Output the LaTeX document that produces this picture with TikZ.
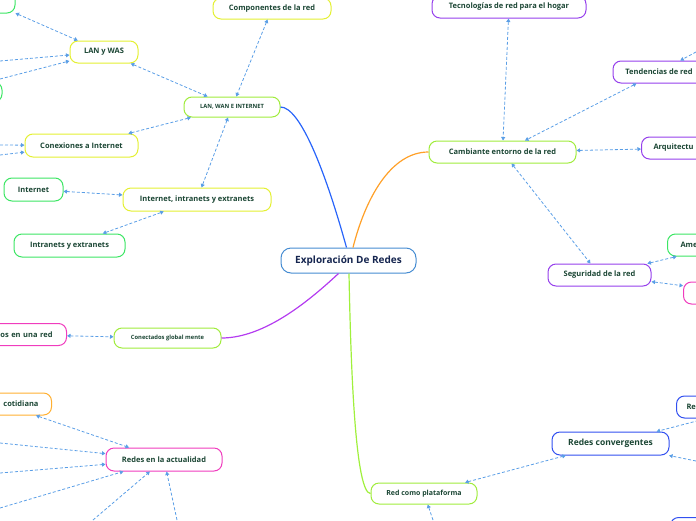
\documentclass[tikz,border=0pt]{standalone}
\usepackage{fontspec}
\setmainfont{Open Sans}
\usetikzlibrary{arrows.meta,calc}
\definecolor{TextGreen}{RGB}{27,70,52}
\definecolor{TitleNavy}{RGB}{22,38,80}
\definecolor{TitleBlue}{RGB}{70,140,210}
\definecolor{LinkBlue}{RGB}{90,158,230}
\definecolor{LimeLine}{RGB}{160,236,60}
\definecolor{YellowLine}{RGB}{228,240,50}
\definecolor{LeafGreen}{RGB}{60,230,100}
\definecolor{VioletLine}{RGB}{150,64,236}
\definecolor{PinkLine}{RGB}{240,60,190}
\definecolor{OrangeLine}{RGB}{255,176,50}
\definecolor{BlueLine}{RGB}{50,80,240}
\definecolor{BranchBlue}{RGB}{40,100,250}
\definecolor{BranchOrange}{RGB}{255,160,40}
\definecolor{BranchViolet}{RGB}{180,60,240}
\definecolor{BranchLime}{RGB}{160,240,60}

\tikzset{
  topic/.style={draw,rounded corners=8pt,line width=1pt,fill=white,
    text=TextGreen,font=\bfseries\fontsize{7.5}{9}\selectfont,
    minimum height=22pt,inner xsep=10pt,inner ysep=0pt},
  tiny/.style={font=\bfseries\fontsize{5.8}{7}\selectfont},
  link/.style={LinkBlue,line width=0.8pt,dash pattern=on 3pt off 2pt,
    {Triangle[width=4pt,length=3.5pt]}-{Triangle[width=4pt,length=3.5pt]}},
  inlink/.style={link,-{Triangle[width=4pt,length=3.5pt]}},
  branch/.style={line width=1.2pt},
  cutleft/.style={anchor=east,align=right,text width=#1},
  cutright/.style={anchor=west,align=left,text width=#1}
}

\begin{document}
\begin{tikzpicture}[x=1pt,y=-1pt]
  \useasboundingbox (0,0) rectangle (696,520);
  \clip (0,0) rectangle (696,520);

  % centre
  \node[topic,draw=TitleBlue,text=TitleNavy,rounded corners=10pt,
    font=\bfseries\fontsize{10}{12}\selectfont,
    minimum width=135pt,minimum height=25pt] (explore) at (348.5,260.5)
    {Exploración De Redes};

  % upper left
  \node[topic,tiny,draw=LimeLine,minimum width=96pt,minimum height=20pt]
    (lanwan) at (232,107) {LAN, WAN E INTERNET};
  \node[topic,draw=YellowLine,minimum width=118pt,minimum height=21pt]
    (parts) at (272,8.5) {Componentes de la red};
  \node[topic,draw=YellowLine,minimum width=68pt] (lanwas) at (104,52) {LAN y WAS};
  \node[topic,draw=LeafGreen,minimum width=50pt] (cornerleaf) at (-10,2) {};
  \node[topic,draw=LeafGreen,minimum width=60pt,minimum height=20pt]
    (sideleaf) at (-28,92) {};
  \node[topic,draw=YellowLine,minimum width=113pt,minimum height=23pt]
    (conex) at (81.5,145.5) {Conexiones a Internet};
  \node[topic,draw=LeafGreen,minimum width=59pt,minimum height=23pt]
    (inet) at (33.5,189.5) {Internet};
  \node[topic,draw=YellowLine,minimum width=148pt,minimum height=23pt]
    (intra) at (197,199.5) {Internet, intranets y extranets};
  \node[topic,draw=LeafGreen,minimum width=111pt,minimum height=23pt]
    (intraext) at (69.5,245.5) {Intranets y extranets};

  % right
  \node[topic,draw=LimeLine,minimum width=147pt] (change) at (502.5,152)
    {Cambiante entorno de la red};
  \node[topic,draw=VioletLine,minimum width=154pt] (home) at (509,7)
    {Tecnologías de red para el hogar};
  \node[topic,draw=VioletLine,minimum width=92pt] (trends) at (659,72)
    {Tendencias de red};
  \node[topic,draw=VioletLine,cutright=80pt,inner xsep=12pt] (arch) at (641,148)
    {Arquitectu};
  \node[topic,draw=VioletLine,minimum width=103pt] (secure) at (599.5,275)
    {Seguridad de la red};
  \node[topic,draw=LeafGreen,cutright=88pt,inner xsep=13pt] (threat) at (667,245)
    {Ame};
  \node[topic,draw=PinkLine,minimum width=112pt,anchor=west] (pinkright) at (683,293) {};

  % lower left
  \node[topic,draw=PinkLine,cutleft=90pt,inner xsep=14pt] (devices) at (67,334.5)
    {os en una red};
  \node[topic,tiny,draw=LimeLine,minimum width=107pt,minimum height=20pt]
    (global) at (167.5,338) {Conectados global mente};
  \node[topic,draw=OrangeLine,cutleft=72pt,inner xsep=13pt] (daily) at (52,404)
    {cotidiana};
  \node[topic,draw=PinkLine,minimum width=116pt,minimum height=23pt]
    (today) at (164,459.5) {Redes en la actualidad};

  % lower right
  \node[topic,draw=LimeLine,font=\bfseries\fontsize{7}{8}\selectfont,
    minimum width=106pt,minimum height=21pt] (platform) at (424,493.5)
    {Red como plataforma};
  \node[topic,draw=BlueLine,font=\bfseries\fontsize{8.5}{10}\selectfont,
    minimum width=117pt,minimum height=23pt] (converge) at (610.5,443.5)
    {Redes convergentes};
  \node[topic,draw=BlueLine,cutright=128pt,inner xsep=10pt] (reright) at (676,407)
    {Re};
  \node[topic,draw=BlueLine,minimum width=100pt,anchor=north west]
    (blueright) at (670,517) {};

  % loose ends beyond the frame
  \coordinate (w1) at (0,61);
  \coordinate (w2) at (0,79);
  \coordinate (w3) at (0,145);
  \coordinate (w4) at (0,155);
  \coordinate (w5) at (0,443);
  \coordinate (w6) at (0,473);
  \coordinate (w7) at (0,508);
  \coordinate (s1) at (93,520);
  \coordinate (s2) at (177,520);
  \coordinate (s3) at (433,520);
  \coordinate (e1) at (696,52);
  \coordinate (e2) at (696,461);

  % branches
  \draw[branch,BranchBlue] (lanwan.east) .. controls (300,107) and (325,170)
    .. ([xshift=-2pt]explore.north);
  \draw[branch,BranchOrange] ([xshift=4.5pt]explore.north) .. controls (365,200)
    and (390,152) .. (change.west);
  \draw[branch,BranchViolet] ([xshift=-10pt]explore.south) .. controls (310,300)
    and (265,338) .. (global.east);
  \draw[branch,BranchLime] ([xshift=0.5pt]explore.south) .. controls (351,380)
    and (356,493) .. (platform.west);

  % dashed links
  \draw[link] (cornerleaf) -- (lanwas);
  \draw[inlink] (w1) -- (lanwas);
  \draw[inlink] (w2) -- (lanwas);
  \draw[link] (lanwas) -- (lanwan);
  \draw[link] (parts) -- (lanwan);
  \draw[link] (conex) -- (lanwan);
  \draw[inlink] (w3) -- (conex);
  \draw[inlink] (w4) -- (conex);
  \draw[link] (lanwan) -- (intra);
  \draw[link] (inet) -- (intra);
  \draw[link] (intraext) -- (intra);

  \draw[link] (home) -- (change);
  \draw[link] (trends) -- (change);
  \draw[inlink] (e1) -- (trends);
  \draw[link] (change) -- (arch);
  \draw[link] (change) -- (secure);
  \draw[link] (secure) -- (threat);
  \draw[link] (secure) -- (pinkright);

  \draw[link] (devices) -- (global);
  \draw[link] (daily) -- (today);
  \draw[inlink] (w5) -- (today);
  \draw[inlink] (w6) -- (today);
  \draw[inlink] (w7) -- (today);
  \draw[inlink] (s1) -- (today);
  \draw[inlink] (s2) -- (today);

  \draw[link] (platform) -- (converge);
  \draw[inlink] (s3) -- (platform);
  \draw[link] (reright) -- (converge);
  \draw[inlink] (e2) -- (converge);
\end{tikzpicture}
\end{document}
